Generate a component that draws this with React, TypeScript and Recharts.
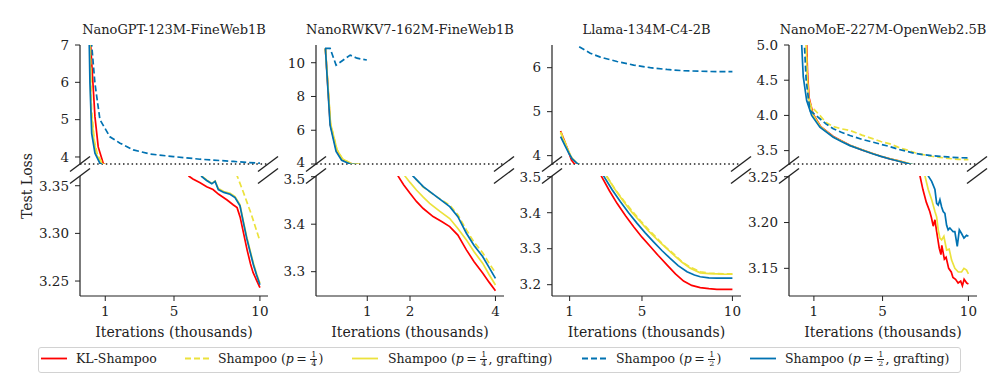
import React from 'react';
import { LineChart, Line, XAxis, YAxis, ReferenceLine } from 'recharts';

type Pt = [number, number];

// NanoGPT-123M-FineWeb1B
const gptKl: Pt[] = [[0.1, 7.6], [0.15, 7.0], [0.4, 5.08], [0.59, 4.27], [0.88, 3.83], [1.0, 3.79], [5.87, 3.36], [6.1, 3.357], [6.52, 3.353], [6.9, 3.349], [7.27, 3.346], [7.6, 3.341], [8.09, 3.335], [8.44, 3.33], [8.67, 3.327], [8.85, 3.317], [9.05, 3.3], [9.25, 3.283], [9.45, 3.268], [9.6, 3.259], [10.0, 3.243]];
const gptQ4: Pt[] = [[0.08, 7.6], [0.13, 7.0], [0.2, 5.3], [0.36, 4.45], [0.55, 4.05], [0.85, 3.83], [1.0, 3.79], [8.68, 3.36], [9.0, 3.345], [9.5, 3.32], [10.0, 3.292]];
const gptQ4g: Pt[] = [[0.07, 7.6], [0.11, 7.0], [0.17, 5.26], [0.34, 4.45], [0.5, 4.05], [0.79, 3.83], [0.95, 3.79], [6.61, 3.3602], [6.9, 3.356], [7.2, 3.3525], [7.39, 3.355], [7.58, 3.347], [7.9, 3.344], [8.26, 3.342], [8.55, 3.3385], [8.84, 3.33], [9.03, 3.313], [9.23, 3.2965], [9.43, 3.282], [9.62, 3.2687], [9.8, 3.258], [10.0, 3.2477]];
const gptH2: Pt[] = [[0.15, 7.6], [0.21, 7.0], [0.4, 5.97], [0.69, 5.0], [1.27, 4.54], [1.86, 4.37], [2.63, 4.19], [3.6, 4.08], [4.96, 4.01], [6.52, 3.94], [8.46, 3.88], [9.2, 3.855], [10.0, 3.835]];
const gptH2g: Pt[] = [[0.04, 7.6], [0.07, 7.0], [0.11, 5.97], [0.21, 4.63], [0.4, 4.1], [0.69, 3.83], [0.85, 3.79], [6.61, 3.3597], [6.9, 3.3555], [7.2, 3.352], [7.39, 3.3545], [7.58, 3.346], [7.9, 3.343], [8.26, 3.341], [8.55, 3.3375], [8.84, 3.329], [9.03, 3.312], [9.23, 3.295], [9.43, 3.2805], [9.62, 3.267], [9.8, 3.2565], [10.0, 3.2462]];

// NanoRWKV7-162M-FineWeb1B
const rwkvKl: Pt[] = [[0.02, 10.85], [0.135, 6.35], [0.28, 4.8], [0.41, 4.26], [0.61, 4.02], [0.75, 3.98], [1.72, 3.5015], [1.85, 3.483], [2.0, 3.465], [2.15, 3.448], [2.31, 3.433], [2.54, 3.416], [2.75, 3.405], [2.93, 3.395], [3.12, 3.377], [3.32, 3.346], [3.5, 3.321], [3.7, 3.297], [3.85, 3.278], [4.0, 3.26]];
const rwkvQ4: Pt[] = [[0.02, 10.85], [0.14, 6.4], [0.29, 4.85], [0.42, 4.3], [0.62, 4.03], [0.78, 3.98], [2.07, 3.5015], [2.31, 3.478], [2.62, 3.458], [2.93, 3.44], [3.12, 3.42], [3.32, 3.388], [3.5, 3.362], [3.7, 3.34], [3.85, 3.318], [4.0, 3.298]];
const rwkvQ4g: Pt[] = [[0.02, 10.85], [0.14, 6.4], [0.29, 4.85], [0.42, 4.3], [0.62, 4.03], [0.78, 3.98], [1.88, 3.5015], [2.0, 3.488], [2.15, 3.472], [2.31, 3.457], [2.46, 3.444], [2.7, 3.427], [2.93, 3.412], [3.12, 3.391], [3.32, 3.367], [3.5, 3.342], [3.7, 3.318], [3.85, 3.294], [4.0, 3.272]];
const rwkvH2: Pt[] = [[0.01, 10.85], [0.13, 10.85], [0.27, 9.86], [0.6, 10.45], [0.76, 10.27], [0.99, 10.16]];
const rwkvH2g: Pt[] = [[0.02, 10.85], [0.13, 6.3], [0.27, 4.75], [0.4, 4.22], [0.6, 4.0], [0.75, 3.97], [2.07, 3.5015], [2.31, 3.479], [2.62, 3.458], [2.93, 3.437], [3.12, 3.416], [3.32, 3.381], [3.5, 3.355], [3.7, 3.332], [3.85, 3.309], [4.0, 3.286]];

// Llama-134M-C4-2B
const llamaKl: Pt[] = [[0.5, 4.56], [0.75, 4.3], [0.95, 4.08], [1.1, 3.9], [1.25, 3.82], [1.4, 3.78], [2.75, 3.502], [3.2, 3.461], [3.62, 3.426], [4.1, 3.391], [4.54, 3.361], [5.0, 3.332], [5.46, 3.306], [5.9, 3.281], [6.38, 3.255], [6.85, 3.23], [7.3, 3.21], [7.75, 3.198], [8.22, 3.192], [8.7, 3.189], [9.14, 3.187], [9.6, 3.187], [10.0, 3.187]];
const llamaQ4: Pt[] = [[0.5, 4.54], [0.75, 4.3], [0.95, 4.09], [1.13, 3.94], [1.4, 3.83], [1.6, 3.78], [3.05, 3.502], [3.5, 3.466], [4.0, 3.433], [4.5, 3.402], [4.93, 3.377], [5.4, 3.351], [5.85, 3.328], [6.3, 3.305], [6.77, 3.285], [7.2, 3.264], [7.69, 3.248], [8.22, 3.236], [8.7, 3.232], [9.14, 3.231], [9.6, 3.23], [10.0, 3.23]];
const llamaQ4g: Pt[] = [[0.5, 4.52], [0.75, 4.28], [0.95, 4.09], [1.13, 3.94], [1.4, 3.83], [1.6, 3.78], [3.03, 3.502], [3.5, 3.465], [3.98, 3.431], [4.45, 3.401], [4.91, 3.375], [5.37, 3.349], [5.83, 3.326], [6.3, 3.304], [6.75, 3.283], [7.2, 3.263], [7.67, 3.246], [8.22, 3.233], [8.7, 3.231], [9.14, 3.23], [9.6, 3.229], [10.0, 3.229]];
const llamaH2: Pt[] = [[0.5, 7.4], [1.0, 6.85], [1.5, 6.48], [2.14, 6.33], [2.7, 6.24], [3.62, 6.14], [4.54, 6.06], [5.46, 6.0], [6.38, 5.96], [7.3, 5.93], [8.22, 5.92], [9.14, 5.91], [10.0, 5.91]];
const llamaH2g: Pt[] = [[0.5, 4.43], [0.75, 4.22], [0.95, 4.06], [1.13, 3.93], [1.4, 3.83], [1.6, 3.78], [2.88, 3.502], [3.35, 3.464], [3.8, 3.431], [4.26, 3.4], [4.72, 3.371], [5.18, 3.344], [5.64, 3.319], [6.1, 3.295], [6.56, 3.273], [7.0, 3.253], [7.49, 3.236], [7.9, 3.227], [8.22, 3.222], [8.7, 3.219], [9.14, 3.218], [9.6, 3.218], [10.0, 3.218]];

// NanoMoE-227M-OpenWeb2.5B
const moeKl: Pt[] = [[0.45, 5.6], [0.58, 5.0], [0.63, 4.6], [0.72, 4.25], [0.95, 4.02], [1.4, 3.84], [2.13, 3.7], [2.6, 3.64], [3.1, 3.575], [3.8, 3.51], [4.46, 3.455], [4.9, 3.42], [5.43, 3.383], [6.0, 3.35], [6.5, 3.315], [7.18, 3.2508], [7.35, 3.236], [7.55, 3.222], [7.75, 3.212], [7.85, 3.205], [7.95, 3.196], [8.05, 3.203], [8.15, 3.19], [8.3, 3.172], [8.4, 3.165], [8.45, 3.175], [8.6, 3.16], [8.7, 3.162], [8.85, 3.15], [9.0, 3.146], [9.1, 3.14], [9.25, 3.138], [9.4, 3.134], [9.55, 3.136], [9.65, 3.131], [9.75, 3.138], [9.9, 3.134], [10.0, 3.133]];
const moeQ4: Pt[] = [[0.4, 5.6], [0.55, 5.0], [0.6, 4.6], [0.67, 4.21], [0.87, 4.12], [1.35, 4.0], [1.7, 3.9], [2.13, 3.843], [2.6, 3.81], [3.1, 3.786], [3.8, 3.72], [4.46, 3.667], [4.9, 3.63], [5.43, 3.596], [5.9, 3.55], [6.4, 3.51], [6.9, 3.47], [7.37, 3.443], [7.85, 3.42], [8.34, 3.404], [8.8, 3.39], [9.4, 3.376], [10.0, 3.371]];
const moeQ4g: Pt[] = [[0.4, 5.6], [0.55, 5.0], [0.6, 4.6], [0.7, 4.25], [0.92, 4.02], [1.38, 3.84], [2.13, 3.695], [2.6, 3.635], [3.1, 3.574], [3.8, 3.512], [4.46, 3.456], [4.9, 3.42], [5.43, 3.384], [6.0, 3.35], [6.55, 3.315], [7.47, 3.2508], [7.66, 3.236], [7.86, 3.225], [8.05, 3.212], [8.15, 3.206], [8.24, 3.192], [8.34, 3.183], [8.44, 3.181], [8.57, 3.185], [8.73, 3.17], [8.88, 3.171], [9.02, 3.159], [9.21, 3.15], [9.41, 3.146], [9.6, 3.146], [9.74, 3.15], [9.89, 3.148], [10.0, 3.144]];
const moeH2: Pt[] = [[0.3, 5.6], [0.45, 5.0], [0.55, 4.5], [0.77, 4.07], [1.35, 3.953], [1.7, 3.88], [2.13, 3.81], [2.6, 3.76], [3.1, 3.714], [3.8, 3.66], [4.46, 3.619], [4.9, 3.59], [5.43, 3.557], [5.9, 3.52], [6.4, 3.49], [6.9, 3.46], [7.37, 3.443], [7.85, 3.43], [8.34, 3.419], [8.8, 3.41], [9.4, 3.4], [10.0, 3.396]];
const moeH2g: Pt[] = [[0.15, 5.6], [0.29, 5.0], [0.38, 4.55], [0.58, 4.21], [0.87, 4.0], [1.35, 3.833], [2.13, 3.69], [2.6, 3.63], [3.1, 3.571], [3.8, 3.508], [4.46, 3.453], [4.9, 3.418], [5.43, 3.381], [6.0, 3.345], [6.59, 3.31], [7.66, 3.2508], [7.86, 3.245], [8.05, 3.236], [8.15, 3.221], [8.24, 3.219], [8.34, 3.225], [8.44, 3.217], [8.53, 3.212], [8.63, 3.21], [8.73, 3.197], [8.82, 3.192], [8.92, 3.194], [9.11, 3.19], [9.21, 3.19], [9.35, 3.174], [9.47, 3.192], [9.6, 3.188], [9.74, 3.183], [9.89, 3.186], [10.0, 3.185]];

const titles = ['NanoGPT-123M-FineWeb1B', 'NanoRWKV7-162M-FineWeb1B', 'Llama-134M-C4-2B', 'NanoMoE-227M-OpenWeb2.5B'];

const FONT = '"DejaVu Serif", "Liberation Serif", serif';
const INK = '#222';
const RED = '#ff0000';
const YELLOW = '#ece23c';
const BLUE = '#0072b2';

// series order: KL-Shampoo, p=1/4, p=1/4 grafting, p=1/2, p=1/2 grafting
const STYLES = [
  { color: RED, dash: undefined },
  { color: YELLOW, dash: '6 3' },
  { color: YELLOW, dash: undefined },
  { color: BLUE, dash: '6 3' },
  { color: BLUE, dash: undefined },
];

const panels = [
  { title: titles[0], L: 80, R: 268, xDomain: [-0.47, 10.47], xTicks: [1, 5, 10], topDomain: [3.812, 7.0], topTicks: [4, 5, 6, 7], topDec: 0, topNudge: {}, botDomain: [3.2343, 3.3602], botTicks: [3.25, 3.3, 3.35], botDec: 2, botNudge: {}, series: [gptKl, gptQ4, gptQ4g, gptH2, gptH2g] },
  { title: titles[1], L: 316, R: 504, xDomain: [-0.2, 4.2], xTicks: [1, 2, 4], topDomain: [4.0, 11.05], topTicks: [4, 6, 8, 10], topDec: 0, topNudge: { '4': -2 }, botDomain: [3.2488, 3.5015], botTicks: [3.3, 3.4, 3.5], botDec: 1, botNudge: { '3.5': 2 }, series: [rwkvKl, rwkvQ4, rwkvQ4g, rwkvH2, rwkvH2g] },
  { title: titles[2], L: 552, R: 741, xDomain: [0.025, 10.475], xTicks: [1, 5, 10], topDomain: [3.81, 6.516], topTicks: [4, 5, 6], topDec: 0, topNudge: {}, botDomain: [3.1686, 3.502], botTicks: [3.2, 3.3, 3.4, 3.5], botDec: 1, botNudge: {}, series: [llamaKl, llamaQ4, llamaQ4g, llamaH2, llamaH2g] },
  { title: titles[3], L: 789, R: 977, xDomain: [-0.45, 10.5], xTicks: [1, 5, 10], topDomain: [3.31, 5.0], topTicks: [3.5, 4.0, 4.5, 5.0], topDec: 1, topNudge: {}, botDomain: [3.1198, 3.2508], botTicks: [3.15, 3.2, 3.25], botDec: 2, botNudge: {}, series: [moeKl, moeQ4, moeQ4g, moeH2, moeH2g] },
];

const rows = (pts: Pt[]) => pts.map(([x, y]) => ({ x, y }));

const YW = 45;
const PAD = 12;
const TOP_Y = 45;
const MID_Y = 164;
const BOT_TOP = 176;
const BOT_Y = 296;
const XAX_H = 46;

const tickStyle = { fontSize: 13.5, fontFamily: FONT, fill: INK };
const axisLine = { stroke: INK, strokeWidth: 1.2 };

// y tick label; a couple of labels sit right at the axis break, nudge them apart
const yTick = (dec: number, nudge: Record<string, number>) => (props: any) => {
  const { x, y, payload } = props;
  const label = Number(payload.value).toFixed(dec);
  return (
    <text x={x} y={y + (nudge[label] || 0)} dy="0.355em" textAnchor="end" fontSize={13.5} fontFamily={FONT} fill={INK}>
      {label}
    </text>
  );
};

function Panel({ cfg }: { cfg: any }) {
  const plotW = cfg.R - cfg.L;
  const W = YW + plotW + PAD;
  const topH = MID_Y - TOP_Y;
  const botH = BOT_Y - BOT_TOP;

  const lines = () =>
    cfg.series.map((pts: Pt[], i: number) => (
      <Line
        key={i}
        data={rows(pts)}
        dataKey="y"
        type="linear"
        stroke={STYLES[i].color}
        strokeWidth={1.7}
        strokeDasharray={STYLES[i].dash}
        dot={false}
        activeDot={false}
        isAnimationActive={false}
      />
    ));

  // the diagonal "//" marks where the y axis is broken
  const marks = (yd: number[], yEdge: number, h: number) => {
    const xd = cfg.xDomain;
    const dx = (10 * (xd[1] - xd[0])) / plotW;
    const dy = (7.5 * (yd[1] - yd[0])) / h;
    return [xd[0], xd[1]].map((x: number, i: number) => (
      <ReferenceLine
        key={'m' + i}
        segment={[{ x: x - dx, y: yEdge - dy }, { x: x + dx, y: yEdge + dy }]}
        stroke={INK}
        strokeWidth={1.4}
        ifOverflow="visible"
      />
    ));
  };

  return (
    <>
      <div style={{ position: 'absolute', left: cfg.L - 20, width: plotW + 40, top: 23, textAlign: 'center', fontFamily: FONT, fontSize: 13, lineHeight: '13px', color: INK, whiteSpace: 'nowrap' }}>
        {cfg.title}
      </div>
      <div style={{ position: 'absolute', left: cfg.L - YW, top: TOP_Y - 10 }}>
        <LineChart width={W} height={10 + topH + PAD} margin={{ top: 10, right: PAD, bottom: PAD, left: 0 }}>
          <XAxis type="number" dataKey="x" orientation="top" domain={cfg.xDomain} ticks={cfg.xTicks} allowDataOverflow height={0} tick={false} tickSize={4} axisLine={axisLine} tickLine={{ stroke: INK }} />
          <YAxis type="number" domain={cfg.topDomain} ticks={cfg.topTicks} interval={0} allowDataOverflow width={YW} tickSize={5} tickMargin={6} tick={yTick(cfg.topDec, cfg.topNudge)} axisLine={axisLine} tickLine={{ stroke: INK }} />
          <YAxis yAxisId="r" orientation="right" type="number" domain={cfg.topDomain} allowDataOverflow width={0} tick={false} tickLine={false} axisLine={axisLine} />
          <ReferenceLine y={cfg.topDomain[0]} stroke={INK} strokeWidth={1.5} strokeDasharray="1.5 2.8" ifOverflow="visible" />
          {lines()}
          {marks(cfg.topDomain, cfg.topDomain[0], topH)}
        </LineChart>
      </div>
      <div style={{ position: 'absolute', left: cfg.L - YW, top: BOT_TOP - PAD }}>
        <LineChart width={W} height={PAD + botH + XAX_H} margin={{ top: PAD, right: PAD, bottom: 0, left: 0 }}>
          <XAxis
            type="number"
            dataKey="x"
            domain={cfg.xDomain}
            ticks={cfg.xTicks}
            interval={0}
            allowDataOverflow
            height={XAX_H}
            tickSize={5}
            tickMargin={5}
            tick={tickStyle}
            axisLine={axisLine}
            tickLine={{ stroke: INK }}
            label={{ value: 'Iterations (thousands)', position: 'insideBottom', offset: 5, fill: INK, fontSize: 14, fontFamily: FONT }}
          />
          <YAxis type="number" domain={cfg.botDomain} ticks={cfg.botTicks} interval={0} allowDataOverflow width={YW} tickSize={5} tickMargin={6} tick={yTick(cfg.botDec, cfg.botNudge)} axisLine={axisLine} tickLine={{ stroke: INK }} />
          <YAxis yAxisId="r" orientation="right" type="number" domain={cfg.botDomain} allowDataOverflow width={0} tick={false} tickLine={false} axisLine={axisLine} />
          {lines()}
          {marks(cfg.botDomain, cfg.botDomain[1], botH)}
        </LineChart>
      </div>
    </>
  );
}

const Frac = ({ n, d }: { n: string; d: string }) => (
  <span style={{ display: 'inline-flex', flexDirection: 'column', alignItems: 'center', fontSize: 8, lineHeight: '8px', verticalAlign: 'middle', margin: '0 1px' }}>
    <span style={{ borderBottom: `0.8px solid ${INK}`, padding: '0 1px' }}>{n}</span>
    <span>{d}</span>
  </span>
);

const P = ({ d, graft }: { d: string; graft?: boolean }) => (
  <span>
    Shampoo (<i>p</i>&thinsp;=&thinsp;<Frac n="1" d={d} />{graft ? ', grafting' : ''})
  </span>
);

const legendItems = [
  { x0: 41, x1: 76, label: <span>KL-Shampoo</span> },
  { x0: 185, x1: 218, label: <P d="4" /> },
  { x0: 352, x1: 388, label: <P d="4" graft /> },
  { x0: 582, x1: 616, label: <P d="2" /> },
  { x0: 750, x1: 785, label: <P d="2" graft /> },
];

export default function App() {
  return (
    <div style={{ position: 'absolute', left: 0, top: 0, width: 997, height: 379, background: '#fff', overflow: 'hidden' }}>
      <div style={{ position: 'absolute', left: 27 - 50, top: 186 - 8, width: 100, height: 16, lineHeight: '16px', textAlign: 'center', fontFamily: FONT, fontSize: 14, color: INK, transform: 'rotate(-90deg)' }}>
        Test Loss
      </div>
      {panels.map((cfg, i) => (
        <Panel key={i} cfg={cfg} />
      ))}
      <div style={{ position: 'absolute', left: 38, top: 347, width: 923, height: 26, border: '1.2px solid #d2d2d2', borderRadius: 3, boxSizing: 'border-box' }} />
      {legendItems.map((it, i) => (
        <React.Fragment key={i}>
          <svg style={{ position: 'absolute', left: it.x0, top: 356 }} width={26} height={5}>
            <line x1={0} y1={2.5} x2={26} y2={2.5} stroke={STYLES[i].color} strokeWidth={1.8} strokeDasharray={STYLES[i].dash} />
          </svg>
          <div style={{ position: 'absolute', left: it.x1, top: 350, height: 17, lineHeight: '17px', fontFamily: FONT, fontSize: 12.5, color: INK, whiteSpace: 'nowrap' }}>
            {it.label}
          </div>
        </React.Fragment>
      ))}
    </div>
  );
}
